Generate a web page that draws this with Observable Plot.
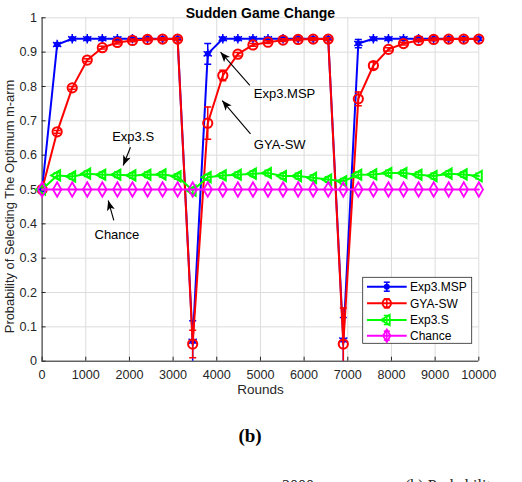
<!DOCTYPE html>
<html><head><meta charset="utf-8">
<script src="https://cdn.jsdelivr.net/npm/d3@7"></script>
<script src="https://cdn.jsdelivr.net/npm/@observablehq/plot@0.6"></script>
<style>
body{margin:0;background:#fff;}
#wrap{position:relative;width:522px;height:482px;overflow:hidden;background:#fff;}
#chart svg{display:block;}
#sub{position:absolute;left:0;top:424px;width:500px;text-align:center;font:bold 19px "Liberation Serif","Times New Roman",serif;color:#000;line-height:24px;}
.cap{position:absolute;top:478px;font:16px "Liberation Serif","Times New Roman",serif;line-height:16px;color:#222;white-space:nowrap;}
</style></head>
<body><div id="wrap"><div id="chart"></div><div id="sub">(b)</div>
<div class="cap" style="left:282px">2000</div><div class="cap" style="left:405px">(b) Probability</div>
</div>
<script>
const rounds = [0,345,690,1034,1379,1724,2069,2414,2759,3103,3448,3793,4138,4483,4828,5172,5517,5862,6207,6552,6897,7241,7586,7931,8276,8621,8966,9310,9655,10000];
const expMSP    = [0.5,0.922,0.939,0.939,0.939,0.939,0.939,0.939,0.939,0.939,0.058,0.895,0.939,0.939,0.939,0.939,0.939,0.939,0.939,0.939,0.062,0.925,0.939,0.939,0.939,0.939,0.939,0.939,0.939,0.939];
const expMSPErr = [0,0.003,0.003,0.003,0.003,0.003,0.003,0.003,0.003,0.003,0.06,0.03,0.003,0.003,0.003,0.003,0.003,0.003,0.003,0.003,0.065,0.012,0.003,0.003,0.003,0.003,0.003,0.003,0.003,0.003];
const gyaSW     = [0.5,0.668,0.796,0.877,0.913,0.928,0.934,0.937,0.938,0.938,0.05,0.693,0.832,0.894,0.921,0.929,0.935,0.937,0.938,0.938,0.05,0.764,0.861,0.908,0.925,0.934,0.937,0.938,0.938,0.938];
const gyaSWErr  = [0,0.004,0.004,0.004,0.004,0.004,0.004,0.004,0.004,0.004,0.04,0.047,0.015,0.005,0.004,0.004,0.004,0.004,0.004,0.004,0.105,0.02,0.01,0.005,0.004,0.004,0.004,0.004,0.004,0.004];
const exp3S     = [0.5,0.541,0.538,0.546,0.543,0.543,0.541,0.543,0.544,0.538,0.497,0.536,0.541,0.543,0.546,0.548,0.539,0.539,0.534,0.529,0.524,0.543,0.544,0.548,0.548,0.543,0.539,0.546,0.544,0.539];
const exp3SErr  = [0,0.008,0.008,0.008,0.008,0.008,0.008,0.008,0.008,0.008,0.008,0.008,0.008,0.008,0.008,0.008,0.008,0.008,0.008,0.008,0.008,0.008,0.008,0.008,0.008,0.008,0.008,0.008,0.008,0.008];
const chance    = [0.5,0.5,0.5,0.5,0.5,0.5,0.5,0.5,0.5,0.5,0.5,0.5,0.5,0.5,0.5,0.5,0.5,0.5,0.5,0.5,0.5,0.5,0.5,0.5,0.5,0.5,0.5,0.5,0.5,0.5];
const chanceErr = [0,0,0,0,0,0,0,0,0,0,0,0,0,0,0,0,0,0,0,0,0,0,0,0,0,0,0,0,0,0];
const seriesNames  = ["Exp3.MSP","GYA-SW","Exp3.S","Chance"];
const seriesColors = ["#0000ff","#ff0000","#00ff00","#ff00ff"];
const xTicks = [0,1000,2000,3000,4000,5000,6000,7000,8000,9000,10000];
const yTicks = [0,0.1,0.2,0.3,0.4,0.5,0.6,0.7,0.8,0.9,1];
const yTickLabels = ["0","0.1","0.2","0.3","0.4","0.5","0.6","0.7","0.8","0.9","1"];
const annoText = ["Exp3.MSP","GYA-SW","Exp3.S","Chance"];
const annoX = [4848,4848,1605,1200];
const annoY = [0.780,0.631,0.652,0.368];
const arrowX1 = [4757,4772,2024,1642];
const arrowY1 = [0.803,0.662,0.623,0.410];
const arrowX2 = [4086,4124,1857,1514];
const arrowY2 = [0.900,0.759,0.570,0.468];
const title = "Sudden Game Change";
const xLabel = "Rounds";
const yLabel = "Probability of Selecting The Optimum m-arm";

const rows = (vals, errs) => rounds.map((x, i) => ({x, y: vals[i], e: errs[i]}));
const dMSP = rows(expMSP, expMSPErr), dGYA = rows(gyaSW, gyaSWErr), dS = rows(exp3S, exp3SErr), dC = rows(chance, chanceErr);
const annos = annoText.map((t, i) => ({t, x: annoX[i], y: annoY[i]}));
const arrows = arrowX1.map((x1, i) => ({x1, y1: arrowY1[i], x2: arrowX2[i], y2: arrowY2[i]}));
const hline = {draw(ctx, size) { const r = Math.sqrt(size / Math.PI); ctx.moveTo(-r, 0); ctx.lineTo(r, 0); }};

function errMarks(data, color) {
  return [
    Plot.ruleX(data, {x: "x", y1: d => d.y - d.e, y2: d => d.y + d.e, stroke: color, strokeWidth: 1.5, clip: true}),
    Plot.dot(data, {x: "x", y: d => d.y + d.e, symbol: hline, r: 3.5, stroke: color, strokeWidth: 1.5, clip: true}),
    Plot.dot(data, {x: "x", y: d => d.y - d.e, symbol: hline, r: 3.5, stroke: color, strokeWidth: 1.5, clip: true})
  ];
}

const W = 522, H = 410, mT = 17.3, mL = 41.6, mR = 43.7, mB = 49.3;
const fw = W - mL - mR, fh = H - mT - mB;
const [cB, cR, cG, cM] = seriesColors;

const chart = Plot.plot({
  width: W, height: H, marginTop: mT, marginLeft: mL, marginRight: mR, marginBottom: mB,
  style: {fontFamily: "'Liberation Sans', Arial, sans-serif", fontSize: "12.6px", color: "#262626", background: "white"},
  x: {domain: [0, 10000], ticks: xTicks, tickSize: 0, tickPadding: 9, label: null, tickFormat: d => String(d)},
  y: {domain: [0, 1], ticks: yTicks, tickSize: 0, tickPadding: 5, label: null, tickFormat: d => yTickLabels[yTicks.indexOf(d)] ?? String(d)},
  marks: [
    Plot.ruleX(xTicks, {stroke: "#dcdcdc", strokeWidth: 1}),
    Plot.ruleY(yTicks, {stroke: "#dcdcdc", strokeWidth: 1}),
    Plot.ruleX([0], {stroke: "#262626", strokeWidth: 1}),
    Plot.ruleY([0], {stroke: "#262626", strokeWidth: 1}),
    Plot.tickX(xTicks, {x: d => d, insetTop: fh - 4, stroke: "#262626"}),
    Plot.tickY(yTicks, {y: d => d, insetRight: fw - 4, stroke: "#262626"}),
    // Exp3.MSP
    Plot.line(dMSP, {x: "x", y: "y", stroke: cB, strokeWidth: 2}),
    ...errMarks(dMSP, cB),
    Plot.dot(dMSP, {x: "x", y: "y", r: 3, fill: cB}),
    Plot.dot(dMSP, {x: "x", y: "y", r: 4.5, symbol: "asterisk", stroke: cB, strokeWidth: 1.5}),
    // GYA-SW
    Plot.line(dGYA, {x: "x", y: "y", stroke: cR, strokeWidth: 2}),
    ...errMarks(dGYA, cR),
    Plot.dot(dGYA, {x: "x", y: "y", r: 4.6, stroke: cR, strokeWidth: 2, fill: "none"}),
    // Exp3.S
    Plot.line(dS, {x: "x", y: "y", stroke: cG, strokeWidth: 2}),
    ...errMarks(dS, cG),
    Plot.dot(dS, {x: "x", y: "y", r: 3.8, symbol: "triangle", rotate: -90, stroke: cG, strokeWidth: 2, fill: "none"}),
    // Chance
    Plot.line(dC, {x: "x", y: "y", stroke: cM, strokeWidth: 2}),
    Plot.dot(dC, {x: "x", y: "y", r: 4.4, symbol: "diamond", stroke: cM, strokeWidth: 1.8, fill: "none"}),
    // annotations
    Plot.link(arrows, {x1: "x1", y1: "y1", x2: "x2", y2: "y2", stroke: "black", strokeWidth: 1.1}),
    Plot.text(annos, {x: "x", y: "y", text: "t", textAnchor: "start", fontSize: 13, fill: "black"}),
    // titles
    Plot.text([title], {frameAnchor: "top", dy: -9.6, fontWeight: "bold", fontSize: 14, fill: "black"}),
    Plot.text([xLabel], {frameAnchor: "bottom", dy: 32.6, fontSize: 13.5, fill: "#262626"}),
    Plot.text([yLabel], {frameAnchor: "left", textAnchor: "middle", dx: -32.6, dy: 17, rotate: -90, fontSize: 12.9, fill: "#262626"})
  ]
});
document.getElementById("chart").appendChild(chart);

const svg = d3.select(chart);
const defs = svg.append("defs");
defs.append("marker").attr("id", "ah").attr("viewBox", "0 0 10 8").attr("refX", 10).attr("refY", 4)
  .attr("markerWidth", 11).attr("markerHeight", 8).attr("markerUnits", "userSpaceOnUse").attr("orient", "auto")
  .append("path").attr("d", "M0,0L10,4L0,8L2.5,4Z").attr("fill", "black");
svg.selectAll('g[aria-label="link"] path').attr("marker-end", "url(#ah)");

// legend
const lg = svg.append("g").attr("text-anchor", "start");
lg.append("rect").attr("x", 362.7).attr("y", 277.3).attr("width", 109).attr("height", 66)
  .attr("fill", "white").attr("stroke", "#262626").attr("stroke-width", 0.8);
const ly = [286.7, 303.3, 320, 335.7];
const sym = [null, null, d3.symbolTriangle, d3.symbolDiamond];
seriesNames.forEach((name, i) => {
  const c = seriesColors[i], y = ly[i], cx = 386.8;
  lg.append("line").attr("x1", 367).attr("x2", 406.7).attr("y1", y).attr("y2", y).attr("stroke", c).attr("stroke-width", 2);
  lg.append("line").attr("x1", cx).attr("x2", cx).attr("y1", y - 4.5).attr("y2", y + 4.5).attr("stroke", c).attr("stroke-width", 1.5);
  lg.append("line").attr("x1", cx - 3).attr("x2", cx + 3).attr("y1", y - 4.5).attr("y2", y - 4.5).attr("stroke", c).attr("stroke-width", 1.5);
  lg.append("line").attr("x1", cx - 3).attr("x2", cx + 3).attr("y1", y + 4.5).attr("y2", y + 4.5).attr("stroke", c).attr("stroke-width", 1.5);
  if (i === 0) {
    lg.append("circle").attr("cx", cx).attr("cy", y).attr("r", 3).attr("fill", c);
  } else if (i === 1) {
    lg.append("circle").attr("cx", cx).attr("cy", y).attr("r", 4.2).attr("fill", "none").attr("stroke", c).attr("stroke-width", 2);
  } else {
    lg.append("path").attr("d", d3.symbol(sym[i], Math.PI * 3.8 * 3.8)())
      .attr("transform", `translate(${cx},${y}) rotate(${i === 2 ? -90 : 0})`)
      .attr("fill", "none").attr("stroke", c).attr("stroke-width", 1.8);
  }
  lg.append("text").attr("x", 410).attr("y", y).attr("dy", "0.35em").attr("font-size", 12)
    .attr("text-anchor", "start").attr("fill", "black").text(name);
});
</script>
</body></html>
